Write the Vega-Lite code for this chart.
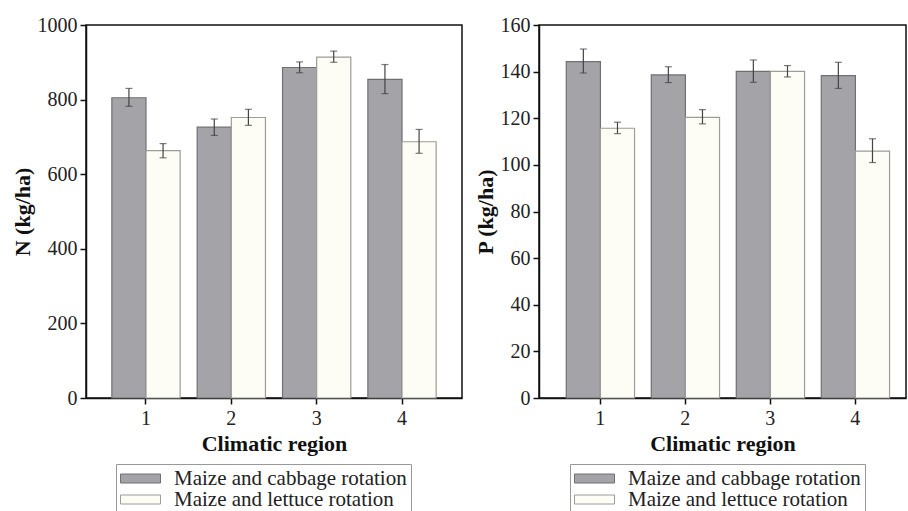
{
  "$schema": "https://vega.github.io/schema/vega-lite/v6.json",
  "padding": {"left": 10, "top": 14, "right": 0, "bottom": 0},
  "background": "white",
  "datasets": {
    "N": [
      {"region": "1", "rotation": "Maize and cabbage rotation", "value": 805, "lo": 782, "hi": 830},
      {"region": "1", "rotation": "Maize and lettuce rotation", "value": 663, "lo": 644, "hi": 682},
      {"region": "2", "rotation": "Maize and cabbage rotation", "value": 726, "lo": 704, "hi": 748},
      {"region": "2", "rotation": "Maize and lettuce rotation", "value": 752, "lo": 731, "hi": 774},
      {"region": "3", "rotation": "Maize and cabbage rotation", "value": 886, "lo": 872, "hi": 901},
      {"region": "3", "rotation": "Maize and lettuce rotation", "value": 914, "lo": 900, "hi": 930},
      {"region": "4", "rotation": "Maize and cabbage rotation", "value": 854, "lo": 816, "hi": 894},
      {"region": "4", "rotation": "Maize and lettuce rotation", "value": 687, "lo": 656, "hi": 720}
    ],
    "P": [
      {"region": "1", "rotation": "Maize and cabbage rotation", "value": 144.3, "lo": 139.4, "hi": 149.7},
      {"region": "1", "rotation": "Maize and lettuce rotation", "value": 115.7, "lo": 113.4, "hi": 118.3},
      {"region": "2", "rotation": "Maize and cabbage rotation", "value": 138.6, "lo": 135.3, "hi": 142.1},
      {"region": "2", "rotation": "Maize and lettuce rotation", "value": 120.4, "lo": 117.6, "hi": 123.7},
      {"region": "3", "rotation": "Maize and cabbage rotation", "value": 140.1, "lo": 135.4, "hi": 145.0},
      {"region": "3", "rotation": "Maize and lettuce rotation", "value": 140.1, "lo": 137.7, "hi": 142.6},
      {"region": "4", "rotation": "Maize and cabbage rotation", "value": 138.3, "lo": 132.8, "hi": 144.0},
      {"region": "4", "rotation": "Maize and lettuce rotation", "value": 105.9, "lo": 101.0, "hi": 111.2}
    ]
  },
  "config": {
    "font": "Liberation Serif",
    "view": {"stroke": "#111", "strokeWidth": 1.5},
    "concat": {"spacing": 10},
    "axis": {
      "grid": false,
      "domainColor": "#111",
      "domainWidth": 1.5,
      "tickColor": "#111",
      "tickWidth": 1.5,
      "tickSize": 6,
      "labelFont": "Liberation Serif",
      "labelFontSize": 20,
      "labelColor": "#222",
      "labelPadding": 3,
      "titleFont": "Liberation Serif",
      "titleFontSize": 22,
      "titleFontWeight": "bold",
      "titleColor": "#111"
    },
    "legend": {
      "labelFont": "Liberation Serif",
      "labelFontSize": 21,
      "labelColor": "#222",
      "labelLimit": 0
    }
  },
  "resolve": {"scale": {"x": "independent", "y": "independent", "color": "independent", "stroke": "independent"}, "legend": {"color": "independent"}},
  "hconcat": [
    {
      "width": 376,
      "height": 373,
      "data": {"name": "N"},
      "encoding": {
        "x": {"field": "region", "type": "nominal", "title": "Climatic region",
              "scale": {"paddingInner": 0.2, "paddingOuter": 0.303},
              "axis": {"labelAngle": 0, "titlePadding": 5, "labelPadding": 4}},
        "xOffset": {"field": "rotation", "type": "nominal", "sort": ["Maize and cabbage rotation", "Maize and lettuce rotation"]}
      },
      "layer": [
        {
          "mark": {"type": "bar", "strokeWidth": 1.2},
          "encoding": {
            "y": {"field": "value", "type": "quantitative", "title": "N (kg/ha)",
                  "scale": {"domain": [0, 1000], "nice": false},
                  "axis": {"values": [0, 200, 400, 600, 800, 1000], "format": "d", "titlePadding": 3}},
            "color": {"field": "rotation", "type": "nominal",
                      "scale": {"domain": ["Maize and cabbage rotation", "Maize and lettuce rotation"], "range": ["#a4a3a8", "#fdfdf5"]},
                      "legend": {"title": null, "orient": "none", "legendX": 30, "legendY": 439,
                                 "direction": "vertical", "strokeColor": "#999", "padding": 4,
                                 "symbolType": "M-1,-0.45H3V0.45H-1Z", "symbolSize": 400,
                                 "symbolStrokeColor": "#777", "symbolStrokeWidth": 1, "symbolOpacity": 1,
                                 "labelOffset": 33, "rowPadding": -5, "fillColor": "white"}},
            "stroke": {"field": "rotation", "type": "nominal",
                       "scale": {"domain": ["Maize and cabbage rotation", "Maize and lettuce rotation"], "range": ["#707073", "#9c9c98"]},
                       "legend": null}
          }
        },
        {
          "mark": {"type": "rule", "color": "#444", "strokeWidth": 1.2},
          "encoding": {"y": {"field": "lo", "type": "quantitative"}, "y2": {"field": "hi"}}
        },
        {
          "mark": {"type": "tick", "orient": "horizontal", "size": 7, "thickness": 1.2, "color": "#444"},
          "encoding": {"y": {"field": "lo", "type": "quantitative"}}
        },
        {
          "mark": {"type": "tick", "orient": "horizontal", "size": 7, "thickness": 1.2, "color": "#444"},
          "encoding": {"y": {"field": "hi", "type": "quantitative"}}
        }
      ]
    },
    {
      "width": 367,
      "height": 373,
      "data": {"name": "P"},
      "encoding": {
        "x": {"field": "region", "type": "nominal", "title": "Climatic region",
              "scale": {"paddingInner": 0.2, "paddingOuter": 0.2588, "align": 0.62},
              "axis": {"labelAngle": 0, "titlePadding": 5, "labelPadding": 4}},
        "xOffset": {"field": "rotation", "type": "nominal", "sort": ["Maize and cabbage rotation", "Maize and lettuce rotation"]}
      },
      "layer": [
        {
          "mark": {"type": "bar", "strokeWidth": 1.2},
          "encoding": {
            "y": {"field": "value", "type": "quantitative", "title": "P (kg/ha)",
                  "scale": {"domain": [0, 160], "nice": false},
                  "axis": {"values": [0, 20, 40, 60, 80, 100, 120, 140, 160], "format": "d", "titlePadding": 3}},
            "color": {"field": "rotation", "type": "nominal",
                      "scale": {"domain": ["Maize and cabbage rotation", "Maize and lettuce rotation"], "range": ["#a4a3a8", "#fdfdf5"]},
                      "legend": {"title": null, "orient": "none", "legendX": 31, "legendY": 439,
                                 "direction": "vertical", "strokeColor": "#999", "padding": 4,
                                 "symbolType": "M-1,-0.45H3V0.45H-1Z", "symbolSize": 400,
                                 "symbolStrokeColor": "#777", "symbolStrokeWidth": 1, "symbolOpacity": 1,
                                 "labelOffset": 33, "rowPadding": -5, "fillColor": "white"}},
            "stroke": {"field": "rotation", "type": "nominal",
                       "scale": {"domain": ["Maize and cabbage rotation", "Maize and lettuce rotation"], "range": ["#707073", "#9c9c98"]},
                       "legend": null}
          }
        },
        {
          "mark": {"type": "rule", "color": "#444", "strokeWidth": 1.2},
          "encoding": {"y": {"field": "lo", "type": "quantitative"}, "y2": {"field": "hi"}}
        },
        {
          "mark": {"type": "tick", "orient": "horizontal", "size": 7, "thickness": 1.2, "color": "#444"},
          "encoding": {"y": {"field": "lo", "type": "quantitative"}}
        },
        {
          "mark": {"type": "tick", "orient": "horizontal", "size": 7, "thickness": 1.2, "color": "#444"},
          "encoding": {"y": {"field": "hi", "type": "quantitative"}}
        }
      ]
    }
  ]
}
